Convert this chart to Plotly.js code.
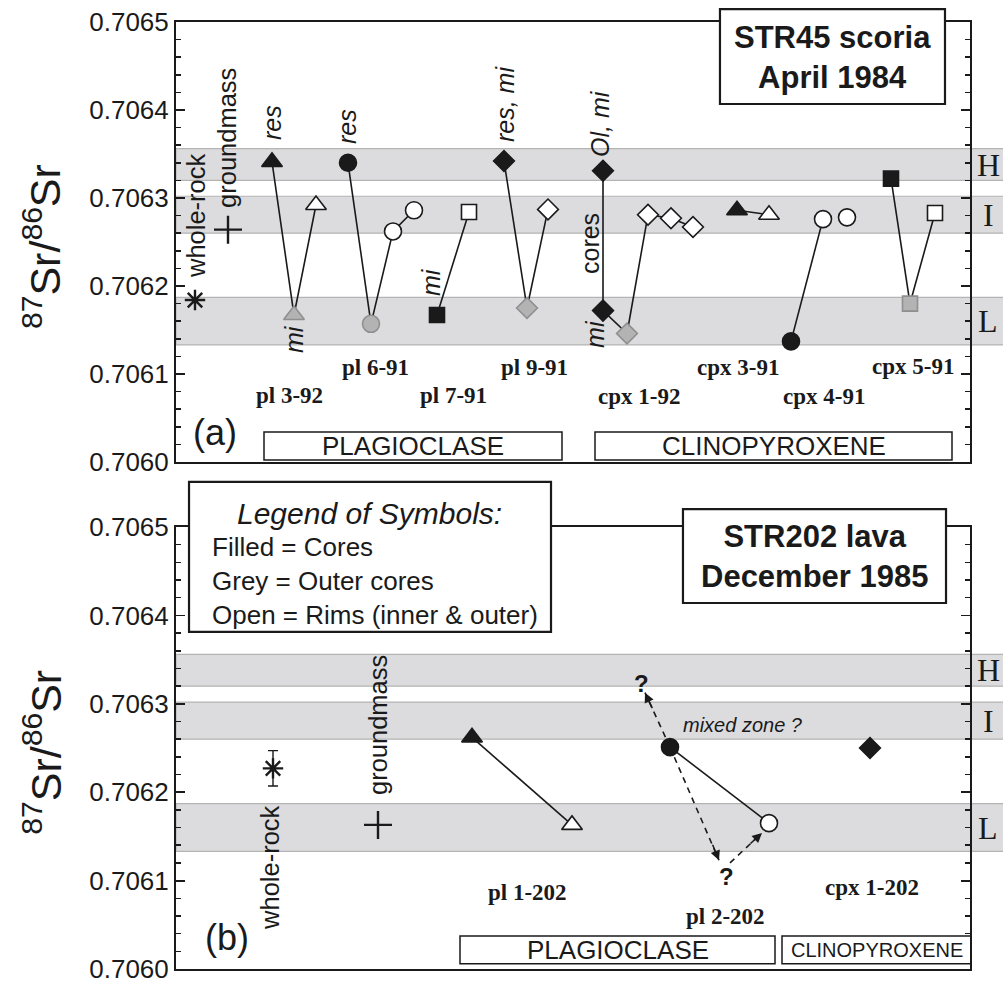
<!DOCTYPE html>
<html>
<head>
<meta charset="utf-8">
<script src="https://cdn.plot.ly/plotly-3.0.1.min.js"></script>
<style>html,body{margin:0;padding:0;background:#fff;}#plot{width:1003px;height:985px;}</style>
</head>
<body>
<div id="plot"></div>
<script>
// ---------- Panel (a): STR45 scoria, April 1984 ----------
// x = position along the panel (arbitrary units 0..794), y = 87Sr/86Sr
const A_X = [96,118,140, 172,195,217,238, 261,293, 328,351,372, 427,427,451,472,495,517, 561,593, 615,647,671, 715,734,759];
const A_Y = [0.706341,0.706167,0.706292, 0.706340,0.706157,0.706262,0.706286, 0.706167,0.706284, 0.706342,0.706175,0.706287,
             0.706331,0.706172,0.706146,0.706281,0.706277,0.706267, 0.706286,0.706281, 0.706137,0.706276,0.706278, 0.706322,0.706180,0.706283];
const A_SYM = ['triangle-up','triangle-up','triangle-up','circle','circle','circle','circle','square','square',
               'diamond','diamond','diamond','diamond','diamond','diamond','diamond','diamond','diamond',
               'triangle-up','triangle-up','circle','circle','circle','square','square','square'];
const A_KIND = ['core','outer','rim','core','outer','rim','rim','core','rim','core','outer','rim',
                'core','core','outer','rim','rim','rim','core','rim','core','rim','rim','core','outer','rim'];
const A_LINK = [0,1,1, 0,1,1,1, 0,1, 0,1,1, 0,1,1,1,1,1, 0,1, 0,1,0, 0,1,1];
const A_LABELS = ['pl 3-92','pl 6-91','pl 7-91','pl 9-91','cpx 1-92','cpx 3-91','cpx 4-91','cpx 5-91'];
const A_LABEL_X = [113,199,277,358,463,562,648,737];
const A_LABEL_Y = [0.706076,0.706107,0.706075,0.706107,0.706074,0.706107,0.706074,0.706108];

// ---------- Panel (b): STR202 lava, December 1985 ----------
const B_X = [296,396,494,593,694];
const B_Y = [0.706262,0.706163,0.706251,0.706165,0.706250];
const B_SYM = ['triangle-up','triangle-up','circle','circle','diamond'];
const B_KIND = ['core','rim','core','rim','core'];
const B_LINK = [0,1,0,1,0];
const B_LABELS = ['pl 1-202','pl 2-202','cpx 1-202'];
const B_LABEL_X = [351,549,696];
const B_LABEL_Y = [0.706086,0.706059,0.706092];
// dashed "?" arrows for pl 2-202
const DASH_X0 = [494,494,554], DASH_Y0 = [0.706251,0.706251,0.706120];
const DASH_X1 = [469,543,586], DASH_Y1 = [0.7063126,0.706123,0.706154];

// whole-rock and groundmass (panel a, panel b)
const WR_X = [19,97], WR_Y = [0.706184,0.706227], WR_ERR = [0,0.00002];
const GM_X = [52,202], GM_Y = [0.706264,0.706163];

// Sr isotope bands
const BAND_NAMES = ['H','I','L'];
const BAND_LO = [0.706320,0.706260,0.706133];
const BAND_HI = [0.706356,0.706302,0.706187];

const INK = '#1a1a1a';
const SANS = 'Liberation Sans, Arial, sans-serif';
const SERIF = 'Liberation Serif, Times New Roman, serif';
const SIZE = {'triangle-up':18,'circle':17,'square':15,'diamond':16};
function fillOf(k){return k==='core'?INK:(k==='outer'?'#b3b3b3':'#ffffff');}
function lineOf(k){return k==='outer'?'#8f8f8f':INK;}

function buildPanel(X,Y,SYM,KIND,LINK,xa,ya){
  const tr=[];
  let cx=[],cy=[];
  const flush=()=>{ if(cx.length>1) tr.push({x:cx,y:cy,xaxis:xa,yaxis:ya,mode:'lines',line:{color:INK,width:1.6},hoverinfo:'skip',showlegend:false}); };
  for(let i=0;i<X.length;i++){
    if(!LINK[i]){flush();cx=[];cy=[];}
    cx.push(X[i]);cy.push(Y[i]);
  }
  flush();
  tr.push({x:X,y:Y,xaxis:xa,yaxis:ya,mode:'markers',showlegend:false,
    marker:{symbol:SYM,size:SYM.map(s=>SIZE[s]),opacity:1,color:KIND.map(fillOf),
      line:{color:KIND.map(lineOf),width:1.6}}});
  return tr;
}

const traces=[];
// dashed arrows (panel b)
for(let i=0;i<DASH_X0.length;i++){
  traces.push({x:[DASH_X0[i],DASH_X1[i]],y:[DASH_Y0[i],DASH_Y1[i]],xaxis:'x2',yaxis:'y2',mode:'lines',
    line:{color:INK,width:1.6,dash:'6px,5px'},hoverinfo:'skip',showlegend:false});
}
traces.push(...buildPanel(A_X,A_Y,A_SYM,A_KIND,A_LINK,'x','y'));
traces.push(...buildPanel(B_X,B_Y,B_SYM,B_KIND,B_LINK,'x2','y2'));
// whole-rock asterisks
traces.push({x:[WR_X[0]],y:[WR_Y[0]],xaxis:'x',yaxis:'y',mode:'markers',showlegend:false,
  marker:{symbol:'asterisk-open',size:17,opacity:1,color:INK,line:{color:INK,width:2.4}}});
traces.push({x:[WR_X[1]],y:[WR_Y[1]],xaxis:'x2',yaxis:'y2',mode:'markers',showlegend:false,
  error_y:{type:'data',array:[WR_ERR[1]],color:INK,thickness:1.4,width:5},
  marker:{symbol:'asterisk-open',size:17,opacity:1,color:INK,line:{color:INK,width:2.4}}});
// groundmass crosses
traces.push({x:[GM_X[0]],y:[GM_Y[0]],xaxis:'x',yaxis:'y',mode:'markers',showlegend:false,
  marker:{symbol:'cross-thin-open',size:20,opacity:1,color:INK,line:{color:INK,width:2.4}}});
traces.push({x:[GM_X[1]],y:[GM_Y[1]],xaxis:'x2',yaxis:'y2',mode:'markers',showlegend:false,
  marker:{symbol:'cross-thin-open',size:20,opacity:1,color:INK,line:{color:INK,width:2.4}}});

// ---------- layout ----------
const shapes=[];
['y','y2'].forEach(ya=>{
  for(let i=0;i<BAND_NAMES.length;i++){
    shapes.push({type:'rect',xref:'paper',yref:ya,x0:0,x1:1.05,y0:BAND_LO[i],y1:BAND_HI[i],
      fillcolor:'#dcdcde',line:{color:'#b4b4b4',width:1.2},layer:'below'});
  }
});
function box(xref,yref,x0,x1,y0,y1,w){
  shapes.push({type:'rect',xref:xref,yref:yref,x0:x0,x1:x1,y0:y0,y1:y1,fillcolor:'#ffffff',line:{color:INK,width:w},layer:'above'});
}
// mineral boxes
box('x','y',88,386,0.7060023,0.7060341,1.5);
box('x','y',419,776,0.7060023,0.7060341,1.5);
box('x2','y2',284,599,0.706006,0.7060373,1.5);
box('x2','y2',606,797,0.706006,0.7060373,1.5);
// title boxes and legend box
box('paper','paper',0.6851,0.9685,0.9134,1.0137,2.2);
box('paper','paper',0.6385,0.9698,0.3865,0.4857,2.2);
box('paper','paper',0.0164,0.4723,0.3559,0.5143,2.2);

const ann=[];
function t(text,x,y,xref,yref,size,opts){
  ann.push(Object.assign({text:text,x:x,y:y,xref:xref,yref:yref,showarrow:false,
    font:{family:SANS,size:size,color:INK},xanchor:'center',yanchor:'middle'},opts||{}));
}
// crystal labels
A_LABELS.forEach((s,i)=>t('<b>'+s+'</b>',A_LABEL_X[i],A_LABEL_Y[i],'x','y',23,{font:{family:SERIF,size:23,color:INK}}));
B_LABELS.forEach((s,i)=>t('<b>'+s+'</b>',B_LABEL_X[i],B_LABEL_Y[i],'x2','y2',23,{font:{family:SERIF,size:23,color:INK}}));
// rotated notes panel a
const rot={textangle:-90};
t('<i>res</i>',96,0.7063852,'x','y',25,rot);
t('<i>res</i>',171,0.7063807,'x','y',25,rot);
t('<i>res, mi</i>',329,0.7064068,'x','y',25,rot);
t('<i>Ol, mi</i>',424,0.7063841,'x','y',25,rot);
t('cores',414,0.7062477,'x','y',25,rot);
t('<i>mi</i>',419,0.7061455,'x','y',25,rot);
t('<i>mi</i>',118,0.7061398,'x','y',25,rot);
t('<i>mi</i>',255,0.7062045,'x','y',25,rot);
t('whole-rock',20,0.7062795,'x','y',25.5,rot);
t('groundmass',51,0.7063682,'x','y',25.5,rot);
t('(a)',39,0.706033,'x','y',36);
t('PLAGIOCLASE',237,0.7060182,'x','y',26);
t('CLINOPYROXENE',597.5,0.7060182,'x','y',26);
// panel b notes
t('whole-rock',94,0.7061143,'x2','y2',25.5,rot);
t('groundmass',202,0.706276,'x2','y2',25.5,rot);
t('<i>mixed zone ?</i>',567,0.706276,'x2','y2',20);
t('<b>?</b>',465,0.7063235,'x2','y2',24);
t('<b>?</b>',550,0.7061041,'x2','y2',24);
t('(b)',51,0.7060362,'x2','y2',36);
t('PLAGIOCLASE',441.5,0.7060216,'x2','y2',26);
t('CLINOPYROXENE',701,0.7060216,'x2','y2',20);
// arrowheads
[[DASH_X1[0],DASH_Y1[0],8,17],[DASH_X1[1],DASH_Y1[1],-7,-17],[DASH_X1[2],DASH_Y1[2],-13,12]].forEach(a=>{
  ann.push({x:a[0],y:a[1],xref:'x2',yref:'y2',ax:a[2],ay:a[3],text:'',showarrow:true,arrowhead:2,arrowsize:1.3,arrowwidth:1.5,arrowcolor:INK,standoff:0});
});
// band labels
['y','y2'].forEach(ya=>{
  BAND_NAMES.forEach((n,i)=>t(n,1.0227,(BAND_LO[i]+BAND_HI[i])/2,'paper',ya,32,{font:{family:SERIF,size:32,color:INK}}));
});
// title boxes text
t('<b>STR45 scoria<br>April 1984</b>',0.8268,0.9625,'paper','paper',31);
t('<b>STR202 lava<br>December 1985</b>',0.8042,0.4361,'paper','paper',31);
// legend text
t('<i>Legend of Symbols:</i>',0.2443,0.4815,'paper','paper',30);
t('Filled = Cores<br>Grey = Outer cores<br>Open = Rims (inner &amp; outer)',0.0428,0.4095,'paper','paper',26,{xanchor:'left',align:'left'});
// y-axis titles
t('<sup>87</sup>Sr/<sup>86</sup>Sr',-0.168,0.763,'paper','paper',43,rot);
t('<sup>87</sup>Sr/<sup>86</sup>Sr',-0.168,0.229,'paper','paper',43,rot);

const xax={range:[0,794],showticklabels:false,ticks:'',showgrid:false,zeroline:false,showline:true,mirror:true,linewidth:2,linecolor:INK,fixedrange:true};
const yax={range:[0.7060,0.7065],dtick:0.0001,tick0:0.7060,tickformat:'.4f',ticks:'inside',ticklen:9,tickwidth:1.8,tickcolor:INK,
  showgrid:false,zeroline:false,showline:true,mirror:'ticks',linewidth:2,linecolor:INK,fixedrange:true,
  tickfont:{family:SANS,size:26,color:INK},
  minor:{dtick:0.00002,ticks:'inside',ticklen:5,tickwidth:1.5,tickcolor:INK,showgrid:false}};

const layout={
  width:1003,height:985,paper_bgcolor:'#fff',plot_bgcolor:'#fff',showlegend:false,
  margin:{l:176,r:33,t:22,b:16},
  xaxis:Object.assign({},xax,{domain:[0,1],anchor:'y'}),
  yaxis:Object.assign({},yax,{domain:[0.5354,1],anchor:'x'}),
  xaxis2:Object.assign({},xax,{domain:[0,1],anchor:'y2'}),
  yaxis2:Object.assign({},yax,{domain:[0,0.4667],anchor:'x2'}),
  shapes:shapes,annotations:ann
};
Plotly.newPlot('plot',traces,layout,{displayModeBar:false,staticPlot:true});
</script>
</body>
</html>
